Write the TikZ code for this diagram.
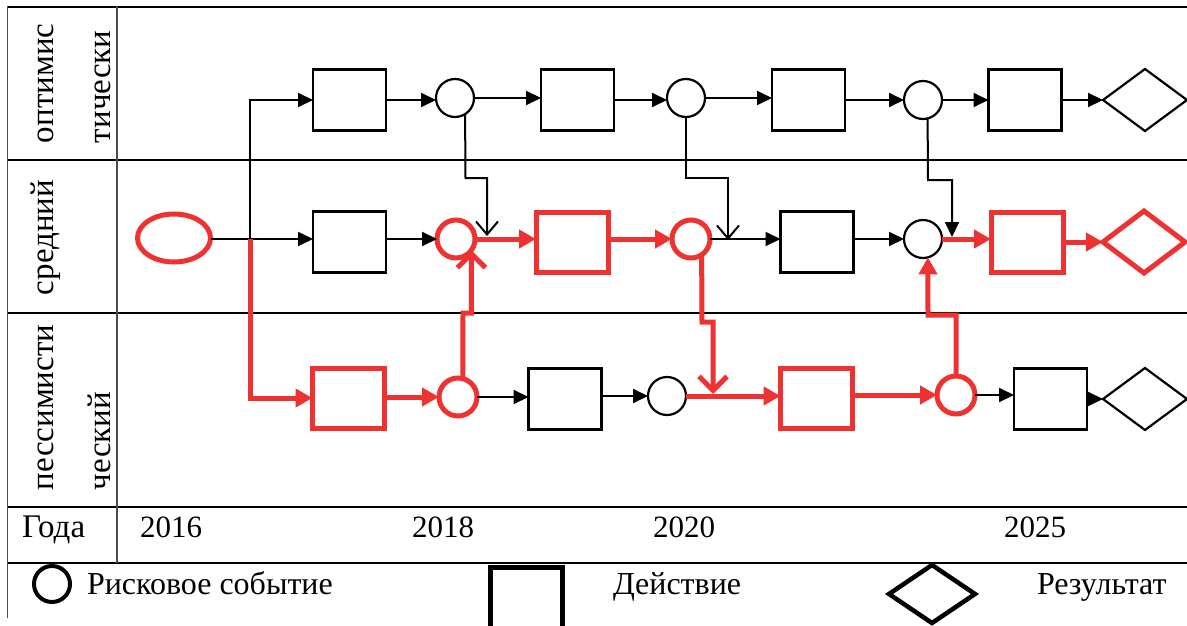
\documentclass[tikz,border=0pt]{standalone}
\usepackage{fontspec}
\setmainfont{Liberation Serif}
\usetikzlibrary{arrows.meta,shapes.geometric}
\definecolor{rd}{RGB}{238,50,50}
\begin{document}
\begin{tikzpicture}[x=1pt,y=-1pt,
  every node/.style={inner sep=0pt, outer sep=0pt},
  act/.style={draw, line width=2.2pt, minimum width=73pt, minimum height=61pt},
  actr/.style={draw=rd, line width=5pt, minimum width=72pt, minimum height=60pt},
  ev/.style={draw, circle, line width=2.2pt, minimum size=38pt},
  evr/.style={draw=rd, circle, line width=5pt, minimum size=38pt},
  res/.style={draw, diamond, line width=2.2pt, minimum width=84pt, minimum height=62pt},
  resr/.style={draw=rd, diamond, line width=5pt, minimum width=82pt, minimum height=62pt},
  gline/.style={line width=2pt},
  vline/.style={line width=1.4pt, draw=black!70},
  cArrow/.style={line width=2pt, -{Triangle[length=15pt,width=14pt]}},
  cArrowR/.style={draw=rd, line width=5pt, -{Triangle[length=17pt,width=18pt]}},
  bArrow/.style={line width=2pt, -{Straight Barb[length=13pt,width=22pt]}},
  bArrowR/.style={draw=rd, line width=5pt, -{Straight Barb[length=14pt,width=28pt]}},
  lbl/.style={font=\fontsize{33}{38}\selectfont},
  leg/.style={font=\fontsize{32}{37}\selectfont},
  num/.style={font=\fontsize{31}{36}\selectfont},
]
\useasboundingbox (0,0) rectangle (1187,626);

% table grid
\draw[gline] (7,7) -- (1187,7);
\draw[gline] (7,160) -- (1187,160);
\draw[gline] (7,313) -- (1187,313);
\draw[gline] (7,507) -- (1187,507);
\draw[gline] (7,563) -- (1187,563);
\draw[vline] (7.5,6) -- (7.5,618);
\draw[vline] (117,6) -- (117,563);

% row labels
\node[lbl, rotate=90, anchor=base west] (la1) at (53,143) {оптимис};
\node[lbl, rotate=90, anchor=base west] (la2) at (110,143) {тически};
\node[lbl, rotate=90, anchor=base west] (lb1) at (53,295) {средний};
\node[lbl, rotate=90, anchor=base west] (lc1) at (53,490) {пессимисти};
\node[lbl, rotate=90, anchor=base west] (lc2) at (110,490) {ческий};

% years
\node[lbl, anchor=base west] (yl) at (22,537) {Года};
\node[num, anchor=base] (y16) at (171,537) {2016};
\node[num, anchor=base] (y18) at (443,537) {2018};
\node[num, anchor=base] (y20) at (684,537) {2020};
\node[num, anchor=base] (y25) at (1035,537) {2025};

% top row
\node[act] (t1) at (349.5,100) {};
\node[ev]  (tc1) at (455,98) {};
\node[act] (t2) at (577.5,100) {};
\node[ev]  (tc2) at (686,98) {};
\node[act] (t3) at (808.5,100) {};
\node[ev]  (tc3) at (923,100) {};
\node[act] (t4) at (1025,100) {};
\node[res] (td) at (1145,100) {};

% middle row
\node[draw=rd, ellipse, line width=5pt, minimum width=73pt, minimum height=48pt] (el) at (174,238) {};
\node[act] (m1) at (349.5,242) {};
\node[evr] (cm1) at (456,239) {};
\node[actr] (m2) at (572,242) {};
\node[evr] (cm2) at (691,239) {};
\node[act] (m3) at (817,242) {};
\node[ev]  (cm3) at (923,239) {};
\node[actr] (m4) at (1027,242) {};
\node[resr] (dm) at (1144,242) {};

% bottom row
\node[actr] (b1) at (348.5,398) {};
\node[evr] (cb1) at (458,397) {};
\node[act] (b2) at (565,399) {};
\node[ev]  (cb2) at (667,396) {};
\node[actr] (b3) at (816.5,398) {};
\node[evr] (cb3) at (956,395) {};
\node[act] (b4) at (1050.5,399) {};
\node[res] (db) at (1145,399) {};

% black connectors
\coordinate (j0) at (250,239);
\draw[cArrow] (el.east |- 0,239) -- (m1.west |- 0,239);
\draw[cArrow] (j0) |- (t1.west);
\draw[cArrow] (t1.east) -- (t1.east -| tc1.west);
\draw[cArrow] (tc1.east) -- (tc1.east -| t2.west);
\draw[cArrow] (t2.east) -- (t2.east -| tc2.west);
\draw[cArrow] (tc2.east) -- (tc2.east -| t3.west);
\draw[cArrow] (t3.east) -- (t3.east -| tc3.west);
\draw[cArrow] (tc3.east) -- (tc3.east -| t4.west);
\draw[cArrow] (t4.east) -- (td.west);
\draw[cArrow] (m1.east |- cm1.west) -- (cm1.west);
\draw[cArrow] (cm2.east) -- (cm2.east -| m3.west);
\draw[cArrow] (m3.east |- cm3.west) -- (cm3.west);
\draw[cArrow] (cb1.east) -- (cb1.east -| b2.west);
\draw[cArrow] (b2.east |- cb2.west) -- (cb2.west);
\draw[cArrow] (cb3.east) -- (cb3.east -| b4.west);
\draw[cArrow] (b4.east) -- (db.west);

% drops from optimistic events
\coordinate (k1) at (465.5,178);
\coordinate (k1b) at (487,178);
\coordinate (e1) at (487,236);
\draw[bArrow] (tc1.-58) -- (k1) -- (k1b) -- (e1);
\coordinate (k2) at (728,178);
\coordinate (e2) at (728,240);
\draw[bArrow] (tc2.south) |- (k2) -- (e2);
\coordinate (k3) at (928,180);
\coordinate (k3b) at (952,180);
\coordinate (e3) at (952,237);
\draw[cArrow] (tc3.-76) -- (k3) -- (k3b) -- (e3);

% red connectors
\draw[cArrowR] (j0) |- (b1.west);
\draw[cArrowR] (cm1.east) -- (cm1.east -| m2.west);
\draw[cArrowR] (m2.east |- cm2.west) -- (cm2.west);
\draw[cArrowR] (cm3.east) -- (cm3.east -| m4.west);
\draw[cArrowR] (m4.east) -- (dm.west);
\draw[cArrowR] (b1.east |- cb1.west) -- (cb1.west);
\draw[cArrowR] (cb2.east) -- (cb2.east -| b3.west);
\draw[cArrowR] (b3.east |- cb3.west) -- (cb3.west);

% red rises / drop
\coordinate (r1) at (463,313);
\coordinate (r1b) at (471.5,313);
\draw[bArrowR] (cb1.75) -- (r1) -- (r1b) -- (cm1.-36);
\coordinate (r2) at (702,322);
\coordinate (r2b) at (713,322);
\coordinate (e4) at (713,394);
\draw[bArrowR] (cm2.-56) -- (r2) -- (r2b) -- (e4);
\coordinate (r3) at (956,315);
\coordinate (r3b) at (928,315);
\draw[cArrowR] (cb3.north) -- (r3) -- (r3b) -- (cm3.-75);

% legend
\node[draw, circle, line width=4pt, minimum size=36pt] (lgc) at (52,584) {};
\node[leg, anchor=base west] (lgt1) at (87,594) {Рисковое событие};
\node[draw, line width=5pt, minimum width=72pt, minimum height=66pt] (lgr) at (526.5,600) {};
\node[leg, anchor=base west] (lgt2) at (613,594) {Действие};
\node[draw, diamond, line width=4.5pt, minimum width=86pt, minimum height=58pt] (lgd) at (932,594) {};
\node[leg, anchor=base west] (lgt3) at (1037,594) {Результат};
\end{tikzpicture}
\end{document}
